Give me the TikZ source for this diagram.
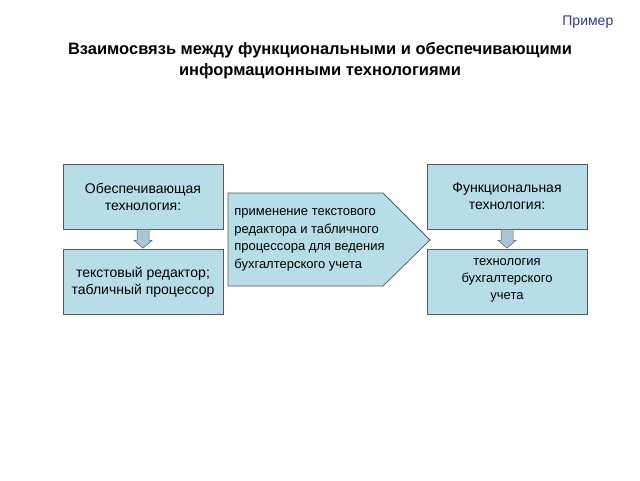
\documentclass[tikz,border=0pt]{standalone}
\usepackage{fontspec}
\setmainfont{Liberation Sans}
\usetikzlibrary{positioning}
\definecolor{boxfill}{HTML}{B7DDE8}
\definecolor{boxline}{HTML}{595959}
\definecolor{arrfill}{HTML}{A5C8D4}
\definecolor{navy}{HTML}{333399}
\tikzset{every picture/.style={line width=0.75pt}}
\tikzset{techbox/.style={draw=boxline,fill=boxfill,minimum width=160pt,minimum height=65pt,align=center,inner sep=2pt,font=\fontsize{14}{17}\selectfont}}
\begin{document}
\begin{tikzpicture}[x=1pt,y=1pt,yscale=-1]
\useasboundingbox (0,0) rectangle (640,480);
% title
\node (ex) [anchor=north east,text=navy,font=\fontsize{14}{16}\selectfont] at (617,12) {Пример};
\node (title) [align=center,font=\bfseries\fontsize{16.5}{21}\selectfont] at (320,61) {Взаимосвязь между функциональными и обеспечивающими\\информационными технологиями};
% boxes
\node (sup) [techbox] at (143,196.5) {Обеспечивающая\\технология:};
\node (supx) [techbox] at (143,282) {текстовый редактор;\\табличный процессор};
\node (fun) [techbox] at (507,196.5) {Функциональная\\технология:};
\node (funx) [techbox,font=\fontsize{13}{17}\selectfont,text depth=6pt] at (507,282) {технология\\бухгалтерского\\учета};
% pentagon
\draw [draw=boxline,fill=boxfill] (228,193) -- (383,193) -- (430,240) -- (383,286) -- (228,286) -- cycle;
\node (use) [anchor=west,align=left,font=\fontsize{13}{17.5}\selectfont,inner sep=0pt] at (234,240) {применение текстового\\редактора и табличного\\процессора для ведения\\бухгалтерского учета};
% down arrows
\foreach \n/\m in {sup/supx,fun/funx}{
  \draw [draw=boxline,fill=arrfill,line width=0.5pt] ([xshift=-6pt]\n.south) -- ++(0,11) -- ++(-3,0) -- ([yshift=-1pt]\m.north) -- ([xshift=9pt,yshift=11pt]\n.south) -- ++(-3,0) -- ([xshift=6pt]\n.south) -- cycle;
}
\end{tikzpicture}
\end{document}
